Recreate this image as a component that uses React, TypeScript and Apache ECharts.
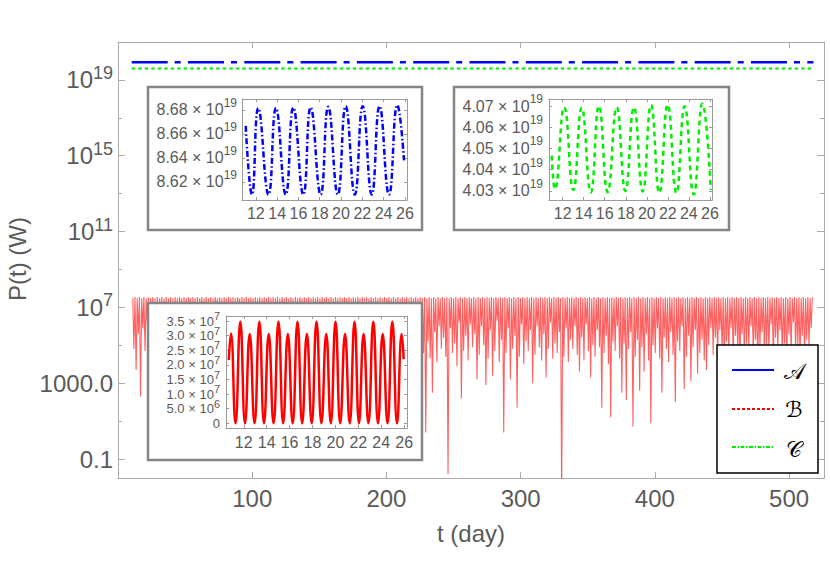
import React, { useEffect, useRef } from "react";
import * as echarts from "echarts";

const FONT = "'Liberation Sans', Arial, Helvetica, sans-serif";
const TXT = "#5a5a5a";
const FRAME = "#aaaaaa";
const INSET_FRAME = "#9a9a9a";

// ---------- main plot ----------
const mainXRange = [0, 526];
const mainYRange = [0.01, 1e21];
const mainXTicks = [100, 200, 300, 400, 500];
const mainYMajor = [0.1, 1000, 1e7, 1e11, 1e15, 1e19];
const mainYMinor = [10, 1e5, 1e9, 1e13, 1e17];

const seriesNames = ["𝒜", "ℬ", "𝒞"];

const aTimes = [10.2, 518.1];
const aValues = [8.646e19, 8.646e19];
const cTimes = [10.2, 518.1];
const cValues = [4.05e19, 4.05e19];

// red series: peaks alternate 3.05e7 / 3.5e7 W, trough depths (log10 W) read per cycle
const redStartDay = 11;
const redStepDay = 1.66;
const redPeakExp = [7.484, 7.544];
const redTroughExp = [
  4.8, 3.7, 5.6, 2.3, 5.9, 4.7, 6.2, 5.4, 6.6, 5.1,
  6.3, 5.8, 6.7, 4.9, 6.1, 5.5, 6.8, 6.0, 5.2, 6.4,
  5.7, 6.6, 4.6, 6.2, 5.9, 6.9, 5.3, 6.5, 6.0, 5.6,
  6.7, 4.8, 6.3, 5.8, 6.6, 5.1, 6.2, 6.8, 5.5, 6.0,
  4.4, 6.4, 5.9, 6.7, 5.3, 6.1, 5.7, 6.9, 5.0, 6.3,
  6.0, 5.4, 6.6, 4.7, 6.2, 5.8, 6.8, 5.2, 6.4, 5.9,
  6.5, 4.9, 6.1, 5.6, 6.7, 5.3, 6.0, 6.9, 4.5, 6.3,
  5.8, 6.6, 5.1, 6.2, 5.7, 6.8, 5.4, 6.0, 6.5, 4.8,
  6.3, 5.9, 6.7, 5.2, 6.1, 5.6, 6.9, 5.0, 6.4, 6.0,
  5.5, 6.6, 4.6, 6.2, 5.8, 6.8, 5.3, 6.5, 5.9, 6.1,
  4.9, 6.7, 5.6, 6.3, 5.1, 6.0, 6.8, 5.4, 6.2, 5.7,
  6.6, 4.7, 6.4, 5.9, 6.9, 5.2, 6.1, 5.8, 6.5, 5.0,
  6.3, 5.6, 6.7, 4.8, 6.0, 5.5, 6.8, 5.3, 6.2, 5.9,
  4.6, 0.4, 5.2, 4.3, 2.5, 5.7, 4.1, 6.0, 4.8, 5.4,
  4.4, -1.8, 5.9, 4.6, 5.1, 3.9, 6.2, 2.2, 4.7, 5.5,
  4.2, 6.1, 4.9, 5.6, 3.2, 4.5, 6.0, 5.0, 2.9, 4.3,
  5.8, 3.4, 4.7, 6.3, 4.1, 5.3, 0.4, 4.6, 5.9, 3.2,
  4.8, 5.5, 1.7, 4.4, 6.1, 4.0, 5.2, 4.7, 5.8, 3.0,
  4.5, 6.0, 4.9, 4.2, 5.6, 3.3, 4.8, 6.2, 4.3, 5.1,
  4.6, 5.7, -3.0, 4.4, 5.9, 4.1, 5.3, 4.8, 6.0, 4.5,
  3.6, 5.4, 4.2, 6.1, 4.7, 3.3, 5.0, 4.4, 5.8, 4.9,
  1.7, 4.6, 5.5, 4.0, 1.2, 5.2, 4.7, 6.0, 4.3, 2.5,
  5.1, 2.1, 4.8, 5.7, 0.7, 4.4, 5.3, 2.6, 4.9, 3.6,
  5.6, 4.2, 0.9, 5.0, 4.6, 5.9, 4.3, 2.5, 5.4, 4.8,
  4.1, 5.7, 4.5, 2.0, 5.2, 4.7, 6.0, 2.7, 4.4, 5.5,
  3.1, 4.9, 5.8, 3.5, 4.6, 5.3, 4.2, 3.7, 5.0, 5.9,
  4.5, 5.4, 4.3, 5.8, 4.6, 3.9, 5.2, 4.4, 5.9, 4.1,
  5.5, 4.7, 3.8, 5.6, 4.2, 5.1, 4.8, 6.0, 4.4, 5.3,
  3.7, 4.9, 5.7, 4.3, 5.0, 4.6, 6.1, 4.0, 5.4, 4.8,
  5.8, 4.2, 5.1, 3.9, 5.6, 4.5, 6.2, 4.7, 5.0, 4.3,
  5.5, 4.1, 5.3, 4.9, 5.9,
];

// ---------- inset 𝒜 (blue) ----------
const insetXRangeA = [10.7, 26.2];
const insetYRangeA = [8.605e19, 8.689e19];
const insetXTicks = [12, 14, 16, 18, 20, 22, 24, 26];
const insetYTicksA = [8.62e19, 8.64e19, 8.66e19, 8.68e19];
const insetATimes = [11.05, 11.64, 12.23, 13.19, 13.89, 14.81, 15.52, 16.46, 17.15, 18.09, 18.8, 19.7, 20.44, 21.3, 22.04, 22.89, 23.62, 24.51, 25.29, 25.92];
const insetAValues_e19 = [8.6666, 8.6095, 8.6814, 8.6095, 8.6815, 8.6095, 8.6818, 8.6095, 8.682, 8.6095, 8.6825, 8.6095, 8.683, 8.6095, 8.683, 8.6095, 8.683, 8.6095, 8.684, 8.638];

// ---------- inset 𝒞 (green) ----------
const insetXRangeC = [10.7, 26.2];
const insetYRangeC = [4.0257e19, 4.0733e19];
const insetYTicksC = [4.03e19, 4.04e19, 4.05e19, 4.06e19, 4.07e19];
const insetCTimes = [10.96, 11.27, 12.15, 13.01, 13.81, 14.67, 15.45, 16.28, 17.14, 17.96, 18.78, 19.61, 20.4, 21.19, 21.99, 22.81, 23.6, 24.46, 25.28, 26.08];
const insetCValues_e19 = [4.0466, 4.0308, 4.0694, 4.0304, 4.0692, 4.0293, 4.07, 4.0294, 4.0694, 4.0299, 4.0694, 4.0297, 4.0705, 4.0291, 4.0706, 4.029, 4.0699, 4.0283, 4.0711, 4.0304];

// ---------- inset ℬ (red) ----------
const insetXRangeB = [10.45, 26.25];
const insetYRangeB = [-1.6e6, 3.675e7];
const insetYTicksB = [0, 5e6, 1e7, 1.5e7, 2e7, 2.5e7, 3e7, 3.5e7];
const insetYLabelsB1 = [0, 1e7, 2e7, 3e7];
const insetYLabelsB2 = [5e6, 1.5e7, 2.5e7, 3.5e7];
const insetBTimes = [10.69, 10.88, 11.28, 11.7, 12.11, 12.52, 12.94, 13.36, 13.77, 14.18, 14.6, 15.03, 15.44, 15.85, 16.27, 16.69, 17.1, 17.51, 17.93, 18.35, 18.78, 19.2, 19.6, 20.01, 20.42, 20.84, 21.25, 21.67, 22.06, 22.46, 22.88, 23.31, 23.72, 24.13, 24.55, 24.97, 25.38, 25.79, 25.96];
const insetBValues_e7 = [2.17, 3.08, 0, 3.48, 0, 3.06, 0, 3.48, 0, 3.06, 0, 3.48, 0, 3.06, 0, 3.48, 0, 3.06, 0, 3.48, 0, 3.06, 0, 3.48, 0, 3.06, 0, 3.48, 0, 3.06, 0, 3.48, 0, 3.06, 0, 3.48, 0, 3.06, 2.2];

const zip = (ts: number[], vs: number[], scale = 1) => ts.map((t, i) => [t, vs[i] * scale]);

function buildRed() {
  const out: number[][] = [];
  for (let k = 0; k <= redTroughExp.length; k++) {
    const t = redStartDay + k * redStepDay;
    out.push([t, Math.pow(10, redPeakExp[k % 2])]);
    if (k < redTroughExp.length) out.push([t + redStepDay / 2, Math.pow(10, redTroughExp[k])]);
  }
  return out;
}

function axis(
  kind: "value" | "log",
  gridIndex: number,
  range: number[],
  position: string,
  ticks: number[],
  tickLen: number,
  opts: { line?: boolean; label?: any; color?: string; z?: number; labelValues?: number[]; noTicks?: boolean } = {}
) {
  const color = opts.color || FRAME;
  const a: any = {
    type: kind,
    gridIndex,
    min: range[0],
    max: range[1],
    position,
    z: opts.z ?? 0,
    axisLine: { show: opts.line !== false, onZero: false, lineStyle: { color, width: 1 } },
    axisTick: opts.noTicks
      ? { show: false }
      : { show: true, inside: true, length: tickLen, customValues: ticks, lineStyle: { color, width: 1 } },
    axisLabel: opts.label
      ? {
          show: true,
          customValues: opts.labelValues || ticks,
          hideOverlap: false,
          showMinLabel: true,
          showMaxLabel: true,
          fontFamily: FONT,
          color: TXT,
          ...opts.label,
        }
      : { show: false },
    splitLine: { show: false },
    minorTick: { show: false },
    axisPointer: { show: false },
  };
  if (kind === "log") a.logBase = 10;
  return a;
}

function buildOption(): any {
  const mainYFormatter = (v: number) => {
    const e = Math.round(Math.log10(v));
    if (e >= 7) return `{b|10}{s|${e}}`;
    if (e === 3) return "{b|1000.0}";
    return "{b|0.1}";
  };
  const mainRich = {
    b: { fontSize: 24, lineHeight: 32, fontFamily: FONT, color: TXT },
    s: { fontSize: 18, verticalAlign: "top", fontFamily: FONT, color: TXT },
  };
  const insetRich = (base: number, lh: number, sup: number) => ({
    b: { fontSize: base, lineHeight: lh, fontFamily: FONT, color: TXT },
    s: { fontSize: sup, verticalAlign: "top", fontFamily: FONT, color: TXT },
  });
  const e19Formatter = (v: number) => `{b|${(v / 1e19).toFixed(2)} × 10}{s|19}`;
  const redFormatter = (v: number) => {
    if (Math.abs(v) < 1) return "{b|0}";
    const e = v >= 9.9e6 ? 7 : 6;
    return `{b|${(v / Math.pow(10, e)).toFixed(1)} × 10}{s|${e}}`;
  };
  const insetXLabel = { fontSize: 16, margin: 5 };
  const redLabel = { formatter: redFormatter, rich: insetRich(13, 21, 11), margin: 6 };

  const grids = [
    { left: 118, top: 42, width: 706, height: 436 },
    { left: 242, top: 99, width: 165, height: 101 },
    { left: 549, top: 99, width: 163, height: 101 },
    { left: 226, top: 316, width: 181, height: 112 },
  ].map((g) => ({ ...g, containLabel: false, outerBoundsMode: "none", show: false }));

  const xAxis = [
    axis("value", 0, mainXRange, "bottom", mainXTicks, 6, { label: { fontSize: 24, margin: 8 } }),
    axis("value", 0, mainXRange, "top", mainXTicks, 6),
    axis("value", 1, insetXRangeA, "bottom", insetXTicks, 3, { label: insetXLabel, color: INSET_FRAME, z: 10 }),
    axis("value", 1, insetXRangeA, "top", insetXTicks, 3, { color: INSET_FRAME, z: 10 }),
    axis("value", 2, insetXRangeC, "bottom", insetXTicks, 3, { label: insetXLabel, color: INSET_FRAME, z: 10 }),
    axis("value", 2, insetXRangeC, "top", insetXTicks, 3, { color: INSET_FRAME, z: 10 }),
    axis("value", 3, insetXRangeB, "bottom", insetXTicks, 3, { label: { fontSize: 16, margin: 6 }, color: INSET_FRAME, z: 10 }),
    axis("value", 3, insetXRangeB, "top", insetXTicks, 3, { color: INSET_FRAME, z: 10 }),
  ];

  const yAxis = [
    axis("log", 0, mainYRange, "left", mainYMajor, 7, {
      label: { formatter: mainYFormatter, rich: mainRich, margin: 5 },
    }),
    axis("log", 0, mainYRange, "left", mainYMinor, 4, { line: false }),
    axis("log", 0, mainYRange, "right", mainYMajor, 7),
    axis("log", 0, mainYRange, "right", mainYMinor, 4, { line: false }),
    axis("value", 1, insetYRangeA, "left", insetYTicksA, 3, {
      label: { formatter: e19Formatter, rich: insetRich(16, 26, 12), margin: 5 },
      color: INSET_FRAME, z: 10,
    }),
    axis("value", 1, insetYRangeA, "right", insetYTicksA, 3, { color: INSET_FRAME, z: 10 }),
    axis("value", 2, insetYRangeC, "left", insetYTicksC, 3, {
      label: { formatter: e19Formatter, rich: insetRich(16, 26, 12), margin: 6 },
      color: INSET_FRAME, z: 10,
    }),
    axis("value", 2, insetYRangeC, "right", insetYTicksC, 3, { color: INSET_FRAME, z: 10 }),
    axis("value", 3, insetYRangeB, "left", insetYTicksB, 3, {
      label: redLabel, labelValues: insetYLabelsB1, color: INSET_FRAME, z: 10,
    }),
    axis("value", 3, insetYRangeB, "right", insetYTicksB, 3, { color: INSET_FRAME, z: 10 }),
    axis("value", 3, insetYRangeB, "left", insetYTicksB, 3, {
      label: redLabel, labelValues: insetYLabelsB2, line: false, noTicks: true, color: INSET_FRAME, z: 10,
    }),
  ];

  const lineSeries = (name: string, xi: number, yi: number, data: number[][], lineStyle: any, extra: any = {}) => ({
    type: "line",
    name,
    xAxisIndex: xi,
    yAxisIndex: yi,
    data,
    symbol: "none",
    showSymbol: false,
    silent: true,
    lineStyle,
    ...extra,
  });

  const series = [
    lineSeries(seriesNames[1], 0, 0, buildRed(), { color: "#ff0000", width: 1.1, opacity: 0.62 }, { z: 2 }),
    lineSeries(seriesNames[0], 0, 0, zip(aTimes, aValues), { color: "#0000ff", width: 2.5, type: [36, 7, 6, 7.3], cap: "butt" }, { z: 3 }),
    lineSeries(seriesNames[2], 0, 0, zip(cTimes, cValues), { color: "#00ee00", width: 2, type: [3.5, 3], cap: "butt" }, { z: 3 }),
    lineSeries(seriesNames[0], 2, 4, zip(insetATimes, insetAValues_e19, 1e19), { color: "#0000ff", width: 2.5, type: [6, 2.5, 1.5, 2.5] }, { z: 10, smooth: 0.5 }),
    lineSeries(seriesNames[2], 4, 6, zip(insetCTimes, insetCValues_e19, 1e19), { color: "#00ee00", width: 2.5, type: [5, 4] }, { z: 10, smooth: 0.5 }),
    lineSeries(seriesNames[1], 6, 8, zip(insetBTimes, insetBValues_e7, 1e7), { color: "#ff0000", width: 2.5 }, { z: 10, smooth: 0.5 }),
  ];

  const box = (x: number, y: number, w: number, h: number, stroke: string, lw: number) => ({
    type: "rect",
    z: 5,
    silent: true,
    shape: { x, y, width: w, height: h },
    style: { fill: "#ffffff", stroke, lineWidth: lw },
  });
  const legendLine = (y: number, stroke: string, dash: number[] | null) => ({
    type: "line",
    z: 6,
    silent: true,
    shape: { x1: 732, y1: y, x2: 774, y2: y },
    style: { stroke, lineWidth: 2, lineDash: dash || undefined },
  });
  const text = (x: number, y: number, t: string, size: number, fill: string, family: string, rotation = 0) => ({
    type: "text",
    z: 6,
    silent: true,
    x,
    y,
    rotation,
    style: { text: t, fontSize: size, fontFamily: family, fill, align: "center", verticalAlign: "middle" },
  });

  const graphic = [
    box(148, 87, 274, 143, "#858585", 2.5),
    box(454, 87, 275, 143, "#858585", 2.5),
    box(148, 303, 274, 157, "#858585", 2.5),
    box(717, 345, 101, 128, "#000000", 1.5),
    legendLine(370, "#0000ff", null),
    legendLine(409, "#ff0000", [3, 2]),
    legendLine(447, "#00ee00", [4, 1.5, 1.5, 1.5]),
    text(794, 371, seriesNames[0], 22, "#000", "'DejaVu Sans', serif"),
    text(794, 409, seriesNames[1], 22, "#000", "'DejaVu Sans', serif"),
    text(794, 449, seriesNames[2], 22, "#000", "'DejaVu Sans', serif"),
    text(471, 533, "t (day)", 24, TXT, FONT),
    text(17, 259, "P(t) (W)", 24, TXT, FONT, Math.PI / 2),
  ];

  return {
    animation: false,
    backgroundColor: "#ffffff",
    grid: grids,
    xAxis,
    yAxis,
    series,
    graphic: { elements: graphic },
  };
}

export default function App() {
  const ref = useRef<HTMLDivElement>(null);
  useEffect(() => {
    document.body.style.margin = "0";
    const chart = echarts.init(ref.current!, null, { renderer: "svg" });
    chart.setOption(buildOption());
    return () => chart.dispose();
  }, []);
  return <div ref={ref} style={{ width: 830, height: 587 }} />;
}
